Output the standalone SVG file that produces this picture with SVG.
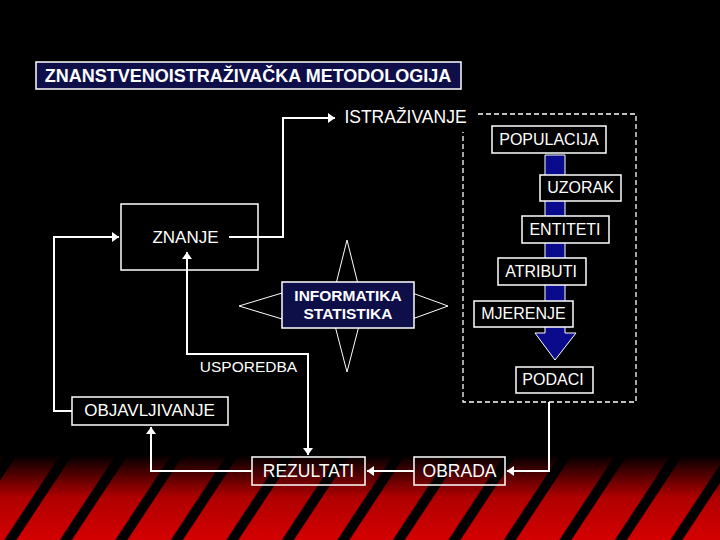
<svg xmlns="http://www.w3.org/2000/svg" width="720" height="540" viewBox="0 0 720 540">
  <defs>
    <linearGradient id="redGrad" x1="0" y1="0" x2="0" y2="1">
      <stop offset="0" stop-color="#000000"/>
      <stop offset="0.12" stop-color="#2a0000"/>
      <stop offset="0.5" stop-color="#b00000"/>
      <stop offset="1" stop-color="#d40000"/>
    </linearGradient>
    <pattern id="stripes" patternUnits="userSpaceOnUse" width="55.5" height="540" patternTransform="skewX(-33.4)">
      <rect x="27.4" y="0" width="12" height="540" fill="#000000"/>
    </pattern>
    <marker id="arr" markerUnits="userSpaceOnUse" markerWidth="10" markerHeight="10" refX="7" refY="5" orient="auto-start-reverse">
      <path d="M0,0 L7,5 L0,10 z" fill="#ffffff"/>
    </marker>
    <style>
      .box { fill: #000000; stroke: #ffffff; stroke-width: 1.5; }
      .box0 { fill: none; stroke: #ffffff; stroke-width: 1.5; }
      .navy { fill: #0e0e48; stroke: #ffffff; stroke-width: 1.5; }
      .kite { fill: #000000; stroke: #ffffff; stroke-width: 1; }
      .t { font-family: "Liberation Sans", Arial, sans-serif; fill: #ffffff; text-anchor: middle; }
      .tb { font-family: "Liberation Sans", Arial, sans-serif; fill: #ffffff; text-anchor: middle; font-weight: bold; }
      .con { fill: none; stroke: #ffffff; stroke-width: 2; }
    </style>
  </defs>

  <rect x="0" y="0" width="720" height="540" fill="#000000"/>
  <rect x="0" y="455" width="720" height="85" fill="url(#redGrad)"/>
  <rect x="0" y="455" width="720" height="85" fill="url(#stripes)"/>

  <g id="title">
    <rect class="navy" x="36" y="62" width="425" height="27"/>
    <text class="tb" x="248" y="82" font-size="18">ZNANSTVENOISTRAŽIVAČKA METODOLOGIJA</text>
  </g>

  <g id="istrazivanje">
    <text class="t" x="405.5" y="123" font-size="17.5">ISTRAŽIVANJE</text>
  </g>

  <g id="dashed-frame">
    <path d="M478,114 H636 V402 H463 V132" fill="none" stroke="#ffffff" stroke-width="1.3" stroke-dasharray="5,3"/>
  </g>

  <g id="flow-arrow">
    <polygon points="545,155 565,155 565,333 576,333 555,360 535,333 545,333" fill="#0a0a8c" stroke="#ffffff" stroke-width="1"/>
  </g>

  <g id="populacija">
    <rect class="box" x="492" y="126" width="114" height="27"/>
    <text class="t" x="549" y="145" font-size="16">POPULACIJA</text>
  </g>
  <g id="uzorak">
    <rect class="box" x="540" y="175" width="81" height="26"/>
    <text class="t" x="580.5" y="193" font-size="16">UZORAK</text>
  </g>
  <g id="entiteti">
    <rect class="box" x="522" y="216" width="87" height="27"/>
    <text class="t" x="565" y="235" font-size="16">ENTITETI</text>
  </g>
  <g id="atributi">
    <rect class="box" x="498" y="258" width="88" height="27"/>
    <text class="t" x="541" y="277" font-size="16">ATRIBUTI</text>
  </g>
  <g id="mjerenje">
    <rect class="box" x="474" y="301" width="99" height="26"/>
    <text class="t" x="523.5" y="319" font-size="16">MJERENJE</text>
  </g>
  <g id="podaci">
    <rect class="box" x="516" y="367" width="77" height="26"/>
    <text class="t" x="553" y="385" font-size="16">PODACI</text>
  </g>

  <g id="znanje">
    <rect class="box" x="121" y="204" width="137" height="66"/>
    <text class="t" x="185.5" y="243" font-size="17">ZNANJE</text>
  </g>

  <g id="informatika-statistika">
    <polygon class="kite" points="347,240 360,292 334,292"/>
    <polygon class="kite" points="347,372 361,318 333,318"/>
    <polygon class="kite" points="239,306 292,290 292,322"/>
    <polygon class="kite" points="448,306 404,290 404,322"/>
    <rect class="navy" x="282" y="282" width="132" height="46"/>
    <text class="tb" x="348" y="301" font-size="15.5">INFORMATIKA</text>
    <text class="tb" x="348" y="319" font-size="15.5">STATISTIKA</text>
  </g>

  <g id="usporedba">
    <text class="t" x="248.5" y="372" font-size="15.5">USPOREDBA</text>
  </g>

  <g id="objavljivanje">
    <rect class="box" x="72" y="397" width="156" height="28"/>
    <text class="t" x="149.5" y="416" font-size="17">OBJAVLJIVANJE</text>
  </g>
  <g id="rezultati">
    <rect class="box0" x="252" y="457" width="113" height="28"/>
    <text class="t" x="308.5" y="477" font-size="17.5">REZULTATI</text>
  </g>
  <g id="obrada">
    <rect class="box0" x="414" y="457" width="91" height="28"/>
    <text class="t" x="459.5" y="477" font-size="17.5">OBRADA</text>
  </g>

  <g id="connectors">
    <path class="con" d="M229,237 H283 V118 H335" marker-end="url(#arr)"/>
    <path class="con" d="M72,411 H54 V237 H119" marker-end="url(#arr)"/>
    <path class="con" d="M187,252 V354 H308 V455" marker-start="url(#arr)" marker-end="url(#arr)"/>
    <path class="con" d="M252,471 H151 V427" marker-end="url(#arr)"/>
    <path class="con" d="M414,471 H367" marker-end="url(#arr)"/>
    <path class="con" d="M549,402 V471 H507" marker-end="url(#arr)"/>
  </g>
</svg>
